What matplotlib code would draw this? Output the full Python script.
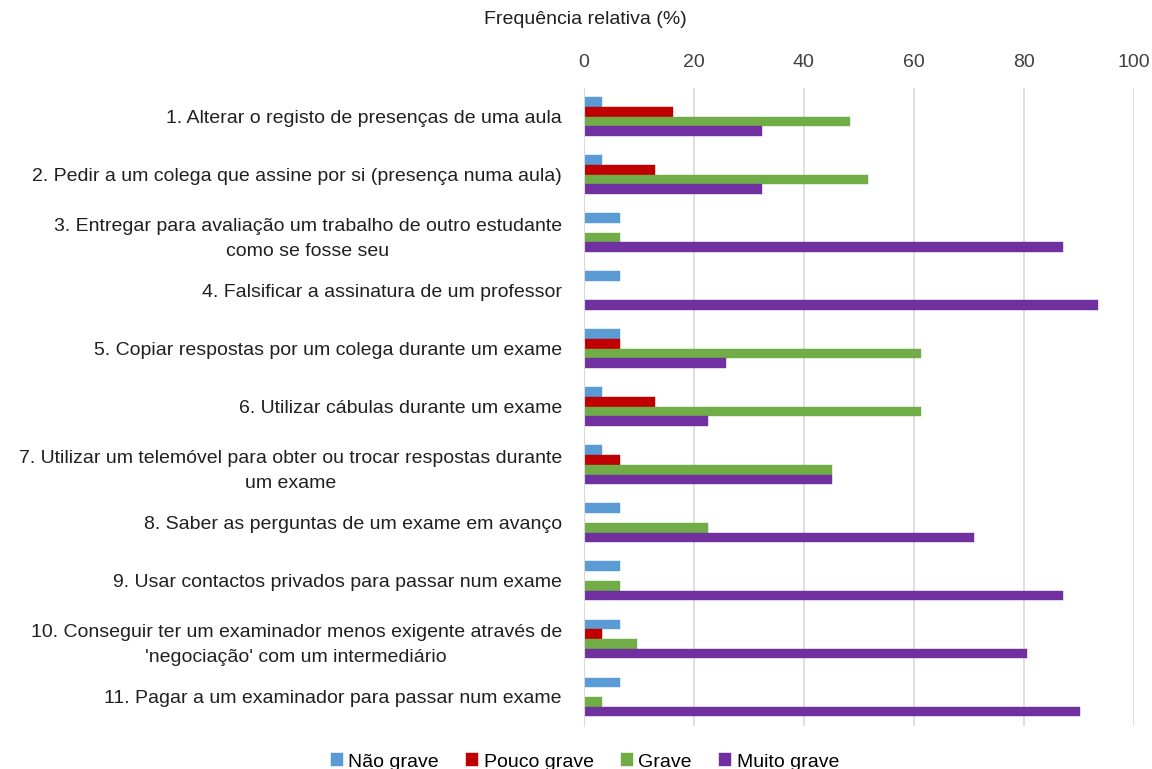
import numpy as np
import matplotlib.pyplot as plt

plt.rcParams['font.family'] = ['Liberation Sans', 'DejaVu Sans']

itens = [
    "1. Alterar o registo de presenças de uma aula",
    "2. Pedir a um colega que assine por si (presença numa aula)",
    "3. Entregar para avaliação um trabalho de outro estudante\ncomo se fosse seu",
    "4. Falsificar a assinatura de um professor",
    "5. Copiar respostas por um colega durante um exame",
    "6. Utilizar cábulas durante um exame",
    "7. Utilizar um telemóvel para obter ou trocar respostas durante\num exame",
    "8. Saber as perguntas de um exame em avanço",
    "9. Usar contactos privados para passar num exame",
    "10. Conseguir ter um examinador menos exigente através de\n'negociação' com um intermediário",
    "11. Pagar a um examinador para passar num exame",
]

nao_grave = [3.2, 3.2, 6.5, 6.5, 6.5, 3.2, 3.2, 6.5, 6.5, 6.5, 6.5]
pouco_grave = [16.1, 12.9, 0, 0, 6.5, 12.9, 6.5, 0, 0, 3.2, 0]
grave = [48.4, 51.6, 6.5, 0, 61.3, 61.3, 45.2, 22.6, 6.5, 9.7, 3.2]
muito_grave = [32.3, 32.3, 87.1, 93.5, 25.8, 22.6, 45.2, 71.0, 87.1, 80.6, 90.3]

series = [
    ("Não grave", nao_grave, "#5B9BD5"),
    ("Pouco grave", pouco_grave, "#C00000"),
    ("Grave", grave, "#70AD47"),
    ("Muito grave", muito_grave, "#7030A0"),
]

fig = plt.figure(figsize=(11.52, 7.69), dpi=100)
ax = fig.add_axes([0.507, 0.056, 0.477, 0.830])

y = np.arange(len(itens))
h = 0.167
for i, (nome, vals, cor) in enumerate(series):
    ax.barh(y + (i - 1.5) * h, vals, height=h, color=cor, label=nome,
            edgecolor=cor, linewidth=0.3, zorder=3)

ax.set_xlim(0, 100)
ax.set_ylim(len(itens) - 0.5, -0.5)
ax.set_xticks(range(0, 101, 20))
ax.xaxis.tick_top()
ax.tick_params(axis='x', length=0, pad=12, labelsize=14, colors='#404040')
ax.tick_params(axis='y', length=0, pad=16, labelsize=14, colors='#202020')
ax.set_yticks(y)
ax.set_yticklabels(itens, multialignment='center', linespacing=1.6)
ax.grid(axis='x', color='#D9D9D9', linewidth=1.2, zorder=0)
for s in ['top', 'right', 'bottom']:
    ax.spines[s].set_visible(False)
ax.spines['left'].set_color('#D9D9D9')
ax.spines['left'].set_zorder(4)

fig.text(585 / 1152, 1 - 20 / 769, "Frequência relativa (%)", ha='center',
         va='center', fontsize=14, color='#202020')

fig.legend(loc='center', bbox_to_anchor=(585 / 1152, 1 - 762 / 769), ncol=4,
           frameon=False, fontsize=14, handlelength=0.6, handleheight=0.6,
           handletextpad=0.3, columnspacing=1.4)

fig.savefig("out.png", dpi=100)
